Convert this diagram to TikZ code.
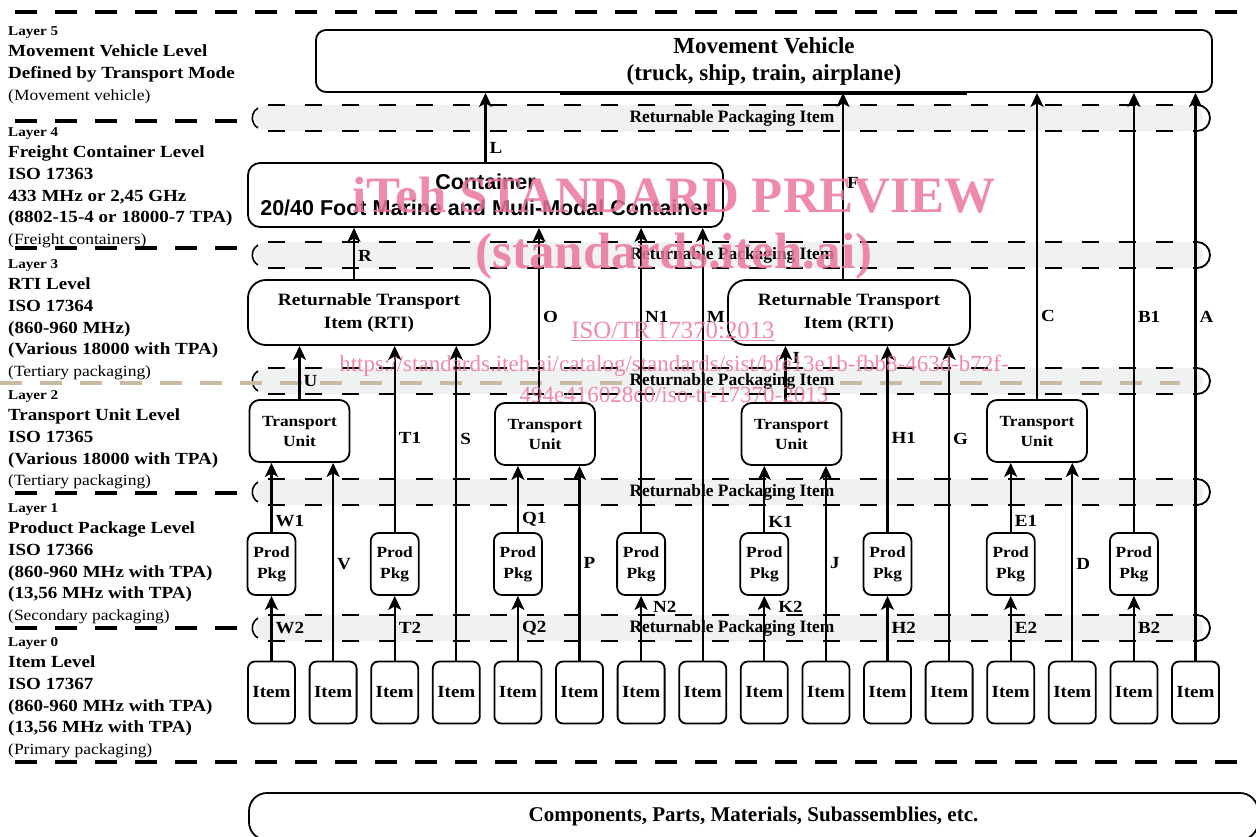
\documentclass[tikz,border=0pt]{standalone}
\usepackage{fontspec}
\setmainfont[FakeStretch=1.12]{Liberation Serif}
\setsansfont{Liberation Sans}
\newfontfamily\narrowserif{Liberation Serif}
\usetikzlibrary{arrows.meta,positioning,calc}
\definecolor{bandgray}{HTML}{F0F1F3}
\definecolor{septan}{HTML}{C9BBA2}
\definecolor{wmpink}{HTML}{EB769B}

\begin{document}
\begin{tikzpicture}[x=1pt,y=-1pt,
  blk/.style={draw,line width=1.8pt,rounded corners=10pt,align=center,inner sep=0pt,font=\bfseries\fontsize{17}{21}\selectfont},
  itembox/.style={blk,minimum width=47pt,minimum height=62pt,rounded corners=7pt},
  pkgbox/.style={blk,minimum width=48pt,minimum height=62pt,rounded corners=8pt,font=\bfseries\fontsize{15.5}{21}\selectfont},
  tubox/.style={blk,minimum width=100pt,minimum height=62pt,font=\bfseries\fontsize{15.5}{20}\selectfont},
  rtibox/.style={blk,minimum width=242pt,minimum height=65pt,rounded corners=18pt,font=\bfseries\fontsize{17.3}{23}\selectfont},
  rise/.style={-{Stealth[length=14pt,width=13pt,inset=3.5pt]},line width=2.2pt},
  lab/.style={font=\bfseries\fontsize{17}{20}\selectfont,inner sep=3pt,anchor=west},
  layersep/.style={line width=3.5pt,dash pattern=on 22pt off 18pt},
  bandline/.style={line width=2pt,dash pattern=on 17pt off 20pt},
  bandtext/.style={font=\narrowserif\bfseries\fontsize{17.4}{20}\selectfont,fill=bandgray,inner sep=1.5pt},
  laytext/.style={anchor=north west,align=left,inner sep=0pt,font=\bfseries\fontsize{17}{21.7}\selectfont},
  wm/.style={text=wmpink,text opacity=0.85,inner sep=0pt}]
  \useasboundingbox (0,0) rectangle (1256,836);

  % layer separators
  \draw[layersep] (15,12) -- (1240,12);
  \draw[layersep] (15,762) -- (1240,762);
  \foreach \y in {121,248,493,628}
    \draw[layersep] (15,\y) -- (240,\y);

  % returnable packaging bands
  \foreach \y in {118,255,381,492,628} {
    \fill[bandgray,rounded corners=13pt] (255,\y-13) rectangle (1203,\y+13);
    \draw[bandline] (268,\y-13) -- (1197,\y-13);
    \draw[bandline] (268,\y+13) -- (1197,\y+13);
    \draw[line width=1.8pt] (1197,\y-13) arc[start angle=90,end angle=-90,radius=13pt];
    \draw[line width=1.6pt] (258,\y-10) arc[start angle=120,end angle=240,radius=11.5pt];
  }
  \draw[layersep,septan] (0,383) -- (1180,383);
  \foreach \y [count=\b] in {118,255,381,492,628}
    \node[bandtext] (band\b) at (732,\y) {Returnable Packaging Item};

  % left column
  \node[laytext] (lay5) at (8,26) {{\fontsize{13.5}{21.7}\selectfont Layer 5}\\Movement Vehicle Level\\Defined by Transport Mode\\{\mdseries\fontsize{15.6}{21.7}\selectfont (Movement vehicle)}};
  \node[laytext] (lay4) at (8,127) {{\fontsize{13.5}{21.7}\selectfont Layer 4}\\Freight Container Level\\ISO 17363\\433 MHz or 2,45 GHz\\(8802-15-4 or 18000-7 TPA)\\{\mdseries\fontsize{15.6}{21.7}\selectfont (Freight containers)}};
  \node[laytext] (lay3) at (8,259) {{\fontsize{13.5}{21.7}\selectfont Layer 3}\\RTI Level\\ISO 17364\\(860-960 MHz)\\(Various 18000 with TPA)\\{\mdseries\fontsize{15.6}{21.7}\selectfont (Tertiary packaging)}};
  \node[laytext] (lay2) at (8,390) {{\fontsize{13.5}{21.7}\selectfont Layer 2}\\Transport Unit Level\\ISO 17365\\(Various 18000 with TPA)\\{\mdseries\fontsize{15.6}{21.7}\selectfont (Tertiary packaging)}};
  \node[laytext] (lay1) at (8,503) {{\fontsize{13.5}{21.7}\selectfont Layer 1}\\Product Package Level\\ISO 17366\\(860-960 MHz with TPA)\\(13,56 MHz with TPA)\\{\mdseries\fontsize{15.6}{21.7}\selectfont (Secondary packaging)}};
  \node[laytext] (lay0) at (8,637) {{\fontsize{13.5}{21.7}\selectfont Layer 0}\\Item Level\\ISO 17367\\(860-960 MHz with TPA)\\(13,56 MHz with TPA)\\{\mdseries\fontsize{15.6}{21.7}\selectfont (Primary packaging)}};

  % boxes
  \node[blk,minimum width=896pt,minimum height=62pt,font=\narrowserif\bfseries\fontsize{23}{27}\selectfont] (mv) at (764,61) {Movement Vehicle\\(truck, ship, train, airplane)};
  \draw[line width=3.5pt] ($(mv.south)+(-204,0)$) -- ($(mv.south)+(203,0)$);
  \node[blk,minimum width=475pt,minimum height=64pt,rounded corners=12pt,font=\sffamily\bfseries\fontsize{21.5}{26}\selectfont] (cont) at (485.5,195) {Container\\20/40 Foot Marine and Muli-Modal Container};
  \node[rtibox] (rti1) at (369,312.5) {Returnable Transport\\Item (RTI)};
  \node[rtibox] (rti2) at (849,312.5) {Returnable Transport\\Item (RTI)};
  \node[tubox] (tu1) at (299.5,431) {Transport\\Unit};
  \node[tubox] (tu2) at (545,434) {Transport\\Unit};
  \node[tubox] (tu3) at (791.5,434) {Transport\\Unit};
  \node[tubox] (tu4) at (1037,431) {Transport\\Unit};
  \foreach \i in {1,...,16}
    \node[itembox] (it\i) at ({271.5+61.6*(\i-1)},692.5) {Item};
  \foreach \j in {1,...,8}
    \node[pkgbox] (pp\j) at ({271.5+123.2*(\j-1)},564) {Prod\\Pkg};
  \node[blk,minimum width=1009pt,minimum height=47pt,rounded corners=18pt,font=\narrowserif\bfseries\fontsize{21}{25}\selectfont] (comp) at (753.5,816.5) {Components, Parts, Materials, Subassemblies, etc.};

  % connectors
  \foreach \s/\t/\l/\p/\d/\o in {
    it1/pp1/W2/.5/0pt/0pt, it3/pp2/T2/.5/0pt/0pt, it5/pp3/Q2/.5/0pt/0pt, it7/pp4/N2/.83/0pt/8pt,
    it9/pp5/K2/.83/0pt/10pt, it11/pp6/H2/.5/0pt/0pt, it13/pp7/E2/.5/0pt/0pt, it15/pp8/B2/.5/0pt/0pt,
    it2/tu1/V/.49/0pt/0pt, it4/rti1/S/.705/0pt/0pt, it6/tu2/P/.5/0pt/0pt, it8/cont/M/.794/0pt/0pt,
    it10/tu3/J/.5/0pt/0pt, it12/rti2/G/.705/0pt/0pt, it14/tu4/D/.49/0pt/0pt, it16/mv/A/.605/0pt/0pt,
    pp1/tu1/W1/.155/0pt/0pt, pp2/rti1/T1/.505/0pt/0pt, pp3/tu2/Q1/.19/0pt/0pt, pp4/cont/N1/.706/0pt/0pt,
    pp5/tu3/K1/.16/0pt/0pt, pp6/rti2/H1/.505/0pt/0pt, pp7/tu4/E1/.155/0pt/0pt, pp8/mv/B1/.49/0pt/0pt,
    tu1/rti1/U/.345/0pt/0pt, tu2/cont/O/.49/-6pt/0pt, tu3/rti2/I/.79/-6pt/3pt, tu4/mv/C/.27/0pt/0pt,
    rti1/cont/R/.45/-15pt/0pt, rti2/mv/F/.516/-6pt/0pt, cont/mv/L/.21/0pt/0pt}
    \draw[rise] ([xshift=\d]\s.north) -- ([xshift=\d]\s.north |- \t.south) node[lab,pos=\p,xshift=\o] {\l};

  % watermark
  \node[wm,font=\narrowserif\bfseries\fontsize{51}{55}\selectfont] (wmtitle) at (674,195) {iTeh STANDARD PREVIEW};
  \node[wm,font=\narrowserif\bfseries\fontsize{51}{55}\selectfont] (wmsite) at (674,256) {(standards.iteh.ai)};
  \node[wm,font=\narrowserif\fontsize{24.8}{28}\selectfont] (wmiso) at (673,331) {\underline{ISO/TR 17370:2013}};
  \node[wm,font=\narrowserif\fontsize{23}{28}\selectfont] (wmurl) at (674,366) {https://standards.iteh.ai/catalog/standards/sist/bfe13e1b-fbb8-463d-b72f-};
  \node[wm,font=\narrowserif\fontsize{23}{28}\selectfont] (wmdoc) at (674,395) {494e416028c0/iso-tr-17370-2013};
\end{tikzpicture}
\end{document}
